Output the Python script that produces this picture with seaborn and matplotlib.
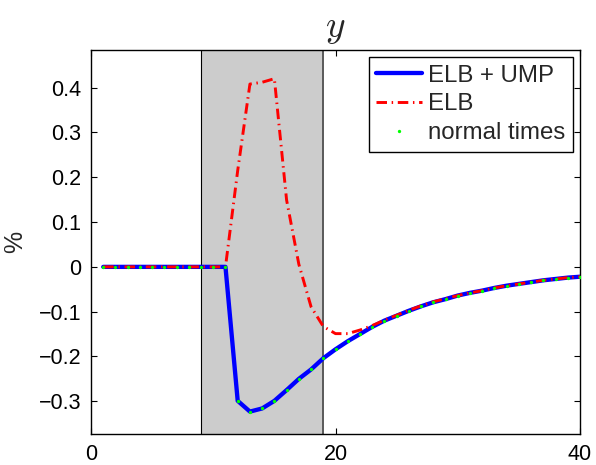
import numpy as np
import pandas as pd
import matplotlib
matplotlib.use("Agg")
import matplotlib.pyplot as plt
import seaborn as sns

periods = list(range(1, 41))

elb_ump = [0.0] * 11 + [
    -0.299, -0.323, -0.316, -0.299, -0.275, -0.250, -0.229, -0.204, -0.184,
    -0.166, -0.150, -0.134, -0.120, -0.109, -0.098, -0.088, -0.079, -0.072,
    -0.064, -0.058, -0.053, -0.047, -0.042, -0.038, -0.034, -0.030, -0.027,
    -0.024, -0.022]

elb = [0.0] * 11 + [
    0.215, 0.408, 0.412, 0.420, 0.149, 0.006, -0.089, -0.133, -0.149,
    -0.149, -0.141, -0.131, -0.119, -0.108, -0.097, -0.087, -0.078, -0.071,
    -0.064, -0.058, -0.053, -0.047, -0.042, -0.038, -0.034, -0.030, -0.027,
    -0.024, -0.022]

normal_times = [0.0] * 11 + [
    -0.299, -0.323, -0.316, -0.299, -0.275, -0.250, -0.229, -0.204, -0.184,
    -0.166, -0.150, -0.134, -0.120, -0.109, -0.098, -0.088, -0.079, -0.072,
    -0.064, -0.058, -0.053, -0.047, -0.042, -0.038, -0.034, -0.030, -0.027,
    -0.024, -0.022]

series_labels = ["ELB + UMP", "ELB", "normal times"]
shade_start, shade_end = 9, 19
x_ticks = [0, 20, 40]
y_ticks = [-0.3, -0.2, -0.1, 0, 0.1, 0.2, 0.3, 0.4]

sns.set_theme(style="ticks")
plt.rcParams["font.family"] = ["Liberation Sans", "DejaVu Sans"]
plt.rcParams["mathtext.fontset"] = "cm"
plt.rcParams["axes.unicode_minus"] = True

fig = plt.figure(figsize=(5.96, 4.65), dpi=100)
ax = fig.add_axes([91 / 596, 1 - 434 / 465, (580 - 91) / 596, (434 - 50) / 465])

ax.axvspan(shade_start, shade_end, color="0.8", lw=0, zorder=0)
ax.axvline(shade_start, color="black", lw=0.8, zorder=1)
ax.axvline(shade_end, color="0.35", lw=1.4, zorder=1)

df = pd.DataFrame({"t": periods, "elb_ump": elb_ump, "elb": elb, "normal": normal_times})

sns.lineplot(data=df, x="t", y="elb_ump", ax=ax, color="#0000ff", linewidth=3.1,
             label=series_labels[0], zorder=3)
sns.lineplot(data=df, x="t", y="elb", ax=ax, color="#ff0000", linewidth=2.1,
             dashes=False, label=series_labels[1], zorder=4)
ax.lines[-1].set_dashes([3.6, 1.6, 0.5, 1.6])
sns.lineplot(data=df, x="t", y="normal", ax=ax, color="#00ff00", linestyle="none",
             marker="o", markersize=2.4, markeredgewidth=0, label=series_labels[2], zorder=5)

ax.set_xlim(0, 40)
ax.set_ylim(-0.373, 0.484)
ax.set_xticks(x_ticks)
ax.set_yticks(y_ticks)
ax.set_xticklabels([str(v) for v in x_ticks])
ax.set_yticklabels(["\u22120.3", "\u22120.2", "\u22120.1", "0", "0.1", "0.2", "0.3", "0.4"])
ax.tick_params(direction="in", length=4, width=0.8, top=True, right=True,
               labelsize=15.5, pad=7, colors="black")
for s in ax.spines.values():
    s.set_color("black")
    s.set_linewidth(1.0)

ax.set_xlabel("")
ax.set_ylabel("%", fontsize=18, labelpad=8)
ax.set_title("$y$", fontsize=27, pad=9)

leg = ax.legend(loc="upper right", bbox_to_anchor=(1 - 7 / 489, 1 - 7 / 384),
                borderaxespad=0, fontsize=17.3, frameon=True, fancybox=False,
                framealpha=1, edgecolor="black", handlelength=1.9, handletextpad=0.25,
                labelspacing=0.28, borderpad=0.32, numpoints=1)
leg.get_frame().set_linewidth(1.0)

fig.savefig("out.png", dpi=100)
